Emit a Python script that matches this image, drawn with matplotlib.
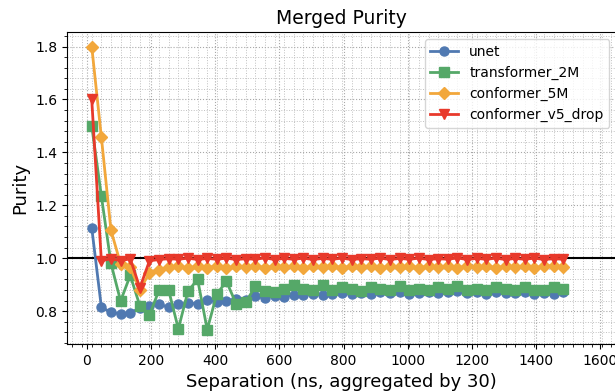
import numpy as np
import matplotlib
matplotlib.use("Agg")
import matplotlib.pyplot as plt
from matplotlib.ticker import MultipleLocator

# Separation bins (ns), aggregated by 30
separation = np.arange(15, 1500, 30)

unet = [1.115, 0.815, 0.795, 0.790, 0.793, 0.812, 0.820, 0.825, 0.815, 0.825,
        0.830, 0.828, 0.843, 0.835, 0.840, 0.845, 0.842, 0.856, 0.850, 0.858,
        0.855, 0.862, 0.860, 0.866, 0.860, 0.866, 0.870, 0.864, 0.868, 0.866,
        0.871, 0.867, 0.871, 0.866, 0.869, 0.873, 0.867, 0.871, 0.877, 0.868,
        0.872, 0.866, 0.873, 0.869, 0.868, 0.873, 0.866, 0.870, 0.865, 0.871]

transformer_2m = [1.500, 1.235, 0.980, 0.838, 0.935, 0.820, 0.785, 0.880, 0.878, 0.733,
                  0.875, 0.920, 0.730, 0.865, 0.912, 0.828, 0.834, 0.893, 0.875, 0.872,
                  0.882, 0.900, 0.885, 0.880, 0.900, 0.878, 0.892, 0.885, 0.875, 0.890,
                  0.884, 0.878, 0.893, 0.880, 0.885, 0.878, 0.890, 0.882, 0.895, 0.880,
                  0.885, 0.878, 0.890, 0.885, 0.880, 0.892, 0.880, 0.878, 0.890, 0.885]

conformer_5m = [1.800, 1.458, 1.105, 0.978, 0.965, 0.880, 0.945, 0.955, 0.965, 0.970,
                0.962, 0.970, 0.964, 0.971, 0.963, 0.970, 0.965, 0.972, 0.964, 0.970,
                0.965, 0.971, 0.963, 0.970, 0.966, 0.972, 0.964, 0.970, 0.965, 0.971,
                0.964, 0.970, 0.966, 0.971, 0.964, 0.970, 0.965, 0.972, 0.964, 0.970,
                0.966, 0.971, 0.964, 0.970, 0.965, 0.972, 0.964, 0.970, 0.971, 0.965]

conformer_v5_drop = [1.600, 0.990, 0.998, 0.990, 0.998, 0.888, 0.990, 0.995, 0.998, 0.996,
                     1.000, 0.995, 0.999, 0.996, 1.000, 0.995, 0.998, 0.996, 1.001, 0.995,
                     0.999, 0.996, 1.000, 0.995, 0.999, 0.996, 1.000, 0.995, 0.998, 0.996,
                     1.000, 0.995, 0.999, 0.996, 1.000, 0.995, 0.998, 0.996, 1.001, 0.995,
                     0.999, 0.996, 1.000, 0.995, 0.999, 0.996, 1.000, 0.995, 0.998, 0.996]

series = [
    ("unet", unet, "#5079b1", "o"),
    ("transformer_2M", transformer_2m, "#55a868", "s"),
    ("conformer_5M", conformer_5m, "#f2a73b", "D"),
    ("conformer_v5_drop", conformer_v5_drop, "#e8392b", "v"),
]

fig = plt.figure(figsize=(6.15, 3.92), dpi=100)
ax = fig.add_axes([0.109, 0.1224, 0.893, 0.7952])

ax.axhline(1.0, color="black", lw=1.5, zorder=1.5)

for label, vals, color, marker in series:
    ax.plot(separation, vals, marker=marker, color=color, lw=2, ms=6.5,
            label=label, zorder=2)

ax.set_xlim(-62, 1650)
ax.set_ylim(0.6755, 1.854)
ax.xaxis.set_major_locator(MultipleLocator(200))
ax.xaxis.set_minor_locator(MultipleLocator(30, offset=15))
ax.yaxis.set_major_locator(MultipleLocator(0.2))
ax.yaxis.set_minor_locator(MultipleLocator(0.04))

ax.grid(which="major", ls=":", color="#a8a8a8", lw=0.8)
ax.grid(which="minor", ls=":", color="#c0c0c0", lw=0.7)
ax.set_axisbelow(True)

ax.set_title("Merged Purity", fontsize=13.5)
ax.set_xlabel("Separation (ns, aggregated by 30)", fontsize=13)
ax.set_ylabel("Purity", fontsize=13)
ax.tick_params(labelsize=10)

ax.legend(loc="upper right", fontsize=10)

fig.savefig("out.png", dpi=100)
